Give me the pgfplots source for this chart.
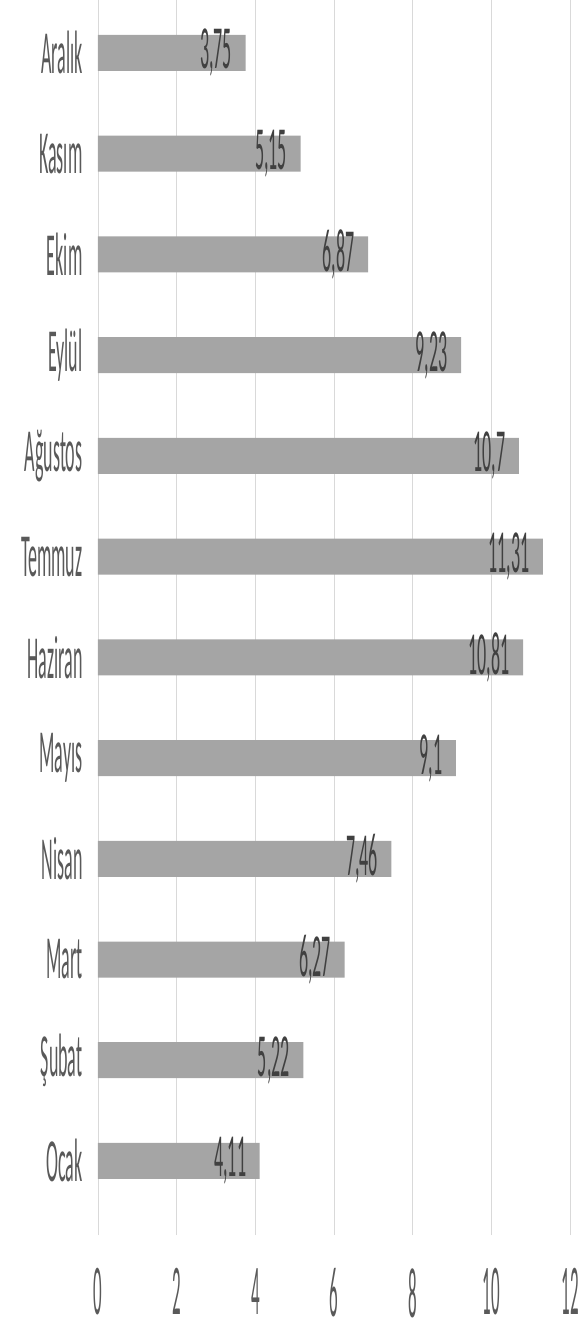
\documentclass[border=0pt]{standalone}
\usepackage{fontspec}
\setmainfont{Carlito}
\usepackage{pgfplots}
\pgfplotsset{compat=1.18}
\definecolor{barc}{HTML}{A5A5A5}
\definecolor{gridc}{HTML}{D9D9D9}
\definecolor{txt}{HTML}{404040}
\definecolor{axt}{HTML}{595959}
\newcommand{\lab}[1]{\scalebox{1}[3.4]{#1}}
\begin{document}
\begin{tikzpicture}
\path[use as bounding box] (0,0) rectangle (588pt,1334pt);
\begin{axis}[
  at={(98pt,99pt)}, anchor=south west,
  scale only axis, width=472pt, height=1235pt,
  xbar, bar width=36pt,
  xmin=0, xmax=12, ymin=-0.735, ymax=11.526,
  xtick={0,2,...,12}, ytick={0,...,11},
  yticklabels={\lab{Ocak},\lab{Şubat},\lab{Mart},\lab{Nisan},\lab{Mayıs},\lab{Haziran},\lab{Temmuz},\lab{Ağustos},\lab{Eylül},\lab{Ekim},\lab{Kasım},\lab{Aralık}},
  /pgf/number format/assume math mode=true,
  xticklabel={\scalebox{1}[4.2]{\pgfmathprintnumber{\tick}}},
  axis line style={draw=none},
  major tick length=0pt,
  xmajorgrids, grid style={gridc, line width=0.8pt},
  yticklabel style={font=\fontsize{18}{20}\selectfont, text=axt, xshift=-12pt},
  xticklabel style={font=\fontsize{17}{20}\selectfont, text=axt, anchor=north, yshift=-30pt},
  point meta=x,
  nodes near coords={\scalebox{1}[3.4]{\pgfmathprintnumber[use comma, precision=2]{\pgfplotspointmeta}}},
  nodes near coords style={anchor=east, font=\fontsize{18}{20}\selectfont, text=txt, xshift=-10pt},
]
\addplot[fill=barc, draw=none] coordinates {
(4.11,0) (5.22,1) (6.27,2) (7.46,3) (9.1,4) (10.81,5) (11.31,6) (10.7,7) (9.23,8) (6.87,9) (5.15,10) (3.75,11)
};
\end{axis}
\end{tikzpicture}
\end{document}
